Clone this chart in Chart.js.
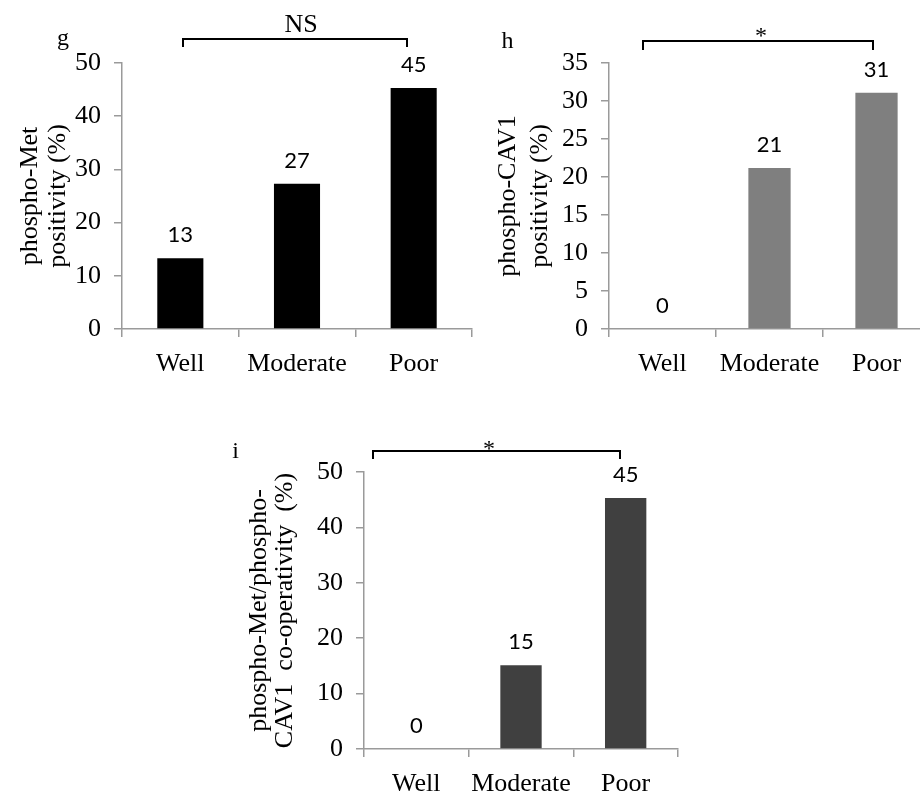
<!DOCTYPE html>
<html>
<head>
<meta charset="utf-8">
<script src="https://cdn.jsdelivr.net/npm/chart.js@4.4.0/dist/chart.umd.min.js"></script>
<style>
	html, body { margin: 0; padding: 0; background: #fff; overflow: hidden; }
	#page { position: relative; width: 920px; height: 797px; overflow: hidden; }
	#page canvas { position: absolute; }
</style>
</head>
<body>
<div id="page">
	<canvas id="chartG" width="480" height="400" style="left:0;top:0;width:480px;height:400px"></canvas>
	<canvas id="chartH" width="480" height="400" style="left:460px;top:0;width:480px;height:400px"></canvas>
	<canvas id="chartI" width="480" height="387" style="left:220px;top:410px;width:480px;height:387px"></canvas>
</div>
<script>
const grades = ['Well', 'Moderate', 'Poor'];
const metPositivity = [13.3, 27.3, 45.3];
const cav1Positivity = [0, 21.2, 31.1];
const coPositivity = [0, 15.1, 45.3];
const metTicks = [0, 10, 20, 30, 40, 50];
const cav1Ticks = [0, 5, 10, 15, 20, 25, 30, 35];
const coTicks = [0, 10, 20, 30, 40, 50];

const SERIF = '"Liberation Serif", "Times New Roman", serif';
const AXIS_COLOR = '#9a9a9a';

const barAnnotations = {
	id: 'barAnnotations',
	afterDatasetsDraw(chart, args, opts) {
		const ctx = chart.ctx;
		const meta = chart.getDatasetMeta(0);
		const values = chart.data.datasets[0].data;
		ctx.save();
		ctx.fillStyle = '#000';
		ctx.textAlign = 'center';
		ctx.textBaseline = 'alphabetic';
		ctx.font = '22px Lato';
		meta.data.forEach((bar, i) => {
			ctx.fillText(String(Math.round(values[i])), bar.x, bar.y - 16);
		});

		// panel letter
		ctx.font = `24px ${SERIF}`;
		ctx.fillText(opts.letter, opts.letterX, opts.letterY);

		// significance bracket
		const b = opts.bracket;
		ctx.strokeStyle = '#000';
		ctx.lineWidth = 2;
		ctx.beginPath();
		ctx.moveTo(b.x1, b.y + b.drop);
		ctx.lineTo(b.x1, b.y);
		ctx.lineTo(b.x2, b.y);
		ctx.lineTo(b.x2, b.y + b.drop);
		ctx.stroke();
		ctx.font = `${b.size}px ${SERIF}`;
		ctx.fillText(b.text, b.textX, b.textY);
		ctx.restore();
	},
};

function makeChart(id, cfg) {
	const ticks = cfg.ticks;
	return new Chart(document.getElementById(id), {
		type: 'bar',
		data: {
			labels: grades,
			datasets: [
				{
					data: cfg.values,
					backgroundColor: cfg.color,
					borderWidth: 0,
					barPercentage: 0.395,
					categoryPercentage: 1,
				},
			],
		},
		options: {
			responsive: false,
			animation: false,
			events: [],
			layout: {
				padding: { left: 0, top: cfg.top, right: cfg.right, bottom: 0 },
			},
			plugins: {
				legend: { display: false },
				tooltip: { enabled: false },
				barAnnotations: cfg.notes,
			},
			scales: {
				x: {
					grid: {
						drawOnChartArea: false,
						tickLength: 8,
						color: AXIS_COLOR,
						lineWidth: 1.5,
						offset: true,
					},
					border: { color: AXIS_COLOR, width: 1.5 },
					ticks: {
						color: '#000',
						font: { family: SERIF, size: 26 },
						padding: 12,
						maxRotation: 0,
					},
					afterFit(scale) {
						scale.height = cfg.xHeight;
					},
				},
				y: {
					min: ticks[0],
					max: ticks[ticks.length - 1],
					grid: {
						drawOnChartArea: false,
						tickLength: 8,
						color: AXIS_COLOR,
						lineWidth: 1.5,
					},
					border: { color: AXIS_COLOR, width: 1.5 },
					ticks: {
						stepSize: ticks[1] - ticks[0],
						color: '#000',
						font: { family: SERIF, size: 26 },
						padding: 13,
					},
					title: {
						display: true,
						text: cfg.title,
						color: '#000',
						font: { family: SERIF, size: 26, lineHeight: cfg.titleLine },
						padding: { top: cfg.titlePad, bottom: 0 },
					},
					afterFit(scale) {
						scale.width = cfg.yWidth;
					},
				},
			},
		},
		plugins: [barAnnotations],
	});
}

makeChart('chartG', {
	values: metPositivity,
	ticks: metTicks,
	color: '#000000',
	title: ['phospho-Met', 'positivity (%)'],
	titleLine: 1.08,
	titlePad: 16.5,
	yWidth: 122,
	xHeight: 71,
	top: 63,
	right: 8,
	notes: {
		letter: 'g', letterX: 63, letterY: 45,
		bracket: { x1: 183, x2: 407, y: 39, drop: 8, text: 'NS', size: 26, textX: 301, textY: 32 },
	},
});

makeChart('chartH', {
	values: cav1Positivity,
	ticks: cav1Ticks,
	color: '#7f7f7f',
	title: ['phospho-CAV1', 'positivity (%)'],
	titleLine: 1.2,
	titlePad: 33,
	yWidth: 149,
	xHeight: 71,
	top: 63,
	right: 10,
	notes: {
		letter: 'h', letterX: 47.5, letterY: 48,
		bracket: { x1: 183, x2: 413, y: 41, drop: 9, text: '*', size: 24, textX: 301, textY: 43 },
	},
});

makeChart('chartI', {
	values: coPositivity,
	ticks: coTicks,
	color: '#404040',
	title: ['phospho-Met/phospho-', 'CAV1  co-operativity  (%)'],
	titleLine: 1.0,
	titlePad: 26.5,
	yWidth: 144,
	xHeight: 48,
	top: 62,
	right: 22,
	notes: {
		letter: 'i', letterX: 15.5, letterY: 48,
		bracket: { x1: 153, x2: 400, y: 41, drop: 8, text: '*', size: 24, textX: 269, textY: 46 },
	},
});
</script>
</body>
</html>
